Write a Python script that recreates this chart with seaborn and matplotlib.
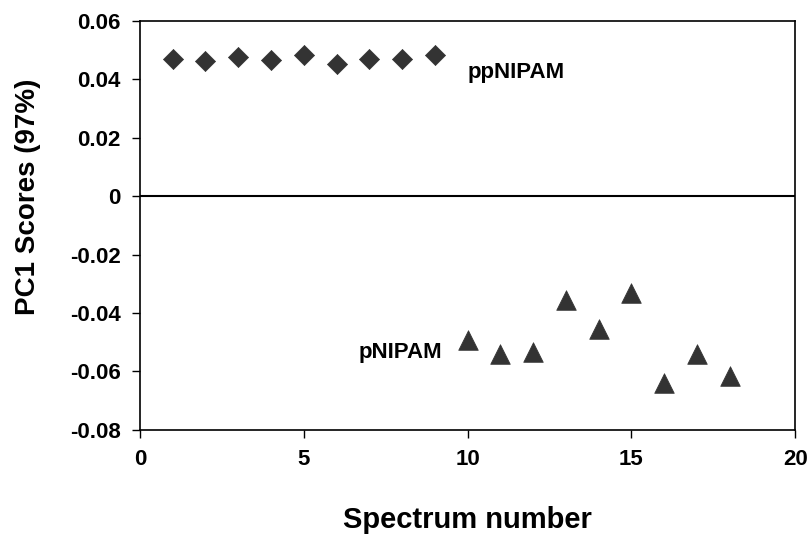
import pandas as pd
import matplotlib.pyplot as plt
import seaborn as sns

# Data
pp_spectrum = [1, 2, 3, 4, 5, 6, 7, 8, 9]
pp_scores = [0.0470, 0.0464, 0.0477, 0.0465, 0.0482, 0.0453, 0.0470, 0.0470, 0.0482]
p_spectrum = [10, 11, 12, 13, 14, 15, 16, 17, 18]
p_scores = [-0.0492, -0.0541, -0.0535, -0.0357, -0.0455, -0.0332, -0.0640, -0.0540, -0.0615]
y_ticks = [0.06, 0.04, 0.02, 0, -0.02, -0.04, -0.06, -0.08]
y_tick_labels = ["0.06", "0.04", "0.02", "0", "-0.02", "-0.04", "-0.06", "-0.08"]
x_ticks = [0, 5, 10, 15, 20]

pp_data = pd.DataFrame({"Spectrum": pp_spectrum, "Score": pp_scores})
p_data = pd.DataFrame({"Spectrum": p_spectrum, "Score": p_scores})

sns.set_style("ticks")
plt.rcParams["font.family"] = ["Liberation Sans", "DejaVu Sans"]
plt.rcParams["text.color"] = "black"
plt.rcParams["axes.labelcolor"] = "black"
plt.rcParams["xtick.color"] = "black"
plt.rcParams["ytick.color"] = "black"

fig = plt.figure(figsize=(8.09, 5.36), dpi=100)
ax = fig.add_axes([0.173, 0.198, 0.810, 0.763])

sns.scatterplot(x="Spectrum", y="Score", data=pp_data, ax=ax, marker="D",
                s=105, color="#333333", edgecolor="#333333", linewidth=0.5)
sns.scatterplot(x="Spectrum", y="Score", data=p_data, ax=ax, marker="^",
                s=200, color="#333333", edgecolor="#333333", linewidth=0.5)

# Zero line
ax.axhline(0, color="black", linewidth=1.5, zorder=1)

# Group labels
ax.text(10.0, 0.0425, "ppNIPAM", fontsize=16, fontweight="bold", va="center", ha="left")
ax.text(9.22, -0.0535, "pNIPAM", fontsize=16, fontweight="bold", va="center", ha="right")

ax.set_xlim(0, 20)
ax.set_ylim(-0.08, 0.06)
ax.set_xticks(x_ticks)
ax.set_yticks(y_ticks)
ax.set_yticklabels(y_tick_labels)
ax.tick_params(direction="out", length=6, width=1, labelsize=16, pad=8)
for lab in ax.get_xticklabels() + ax.get_yticklabels():
    lab.set_fontweight("bold")

for side in ["top", "right", "left", "bottom"]:
    ax.spines[side].set_visible(True)
    ax.spines[side].set_color("black")
    ax.spines[side].set_linewidth(1.2)

ax.set_xlabel("Spectrum number", fontsize=21, fontweight="bold", labelpad=26)
ax.set_ylabel("PC1 Scores (97%)", fontsize=20, fontweight="bold")
ax.yaxis.set_label_coords(-0.151, 0.57)

plt.savefig("out.png", dpi=100)
plt.close()
